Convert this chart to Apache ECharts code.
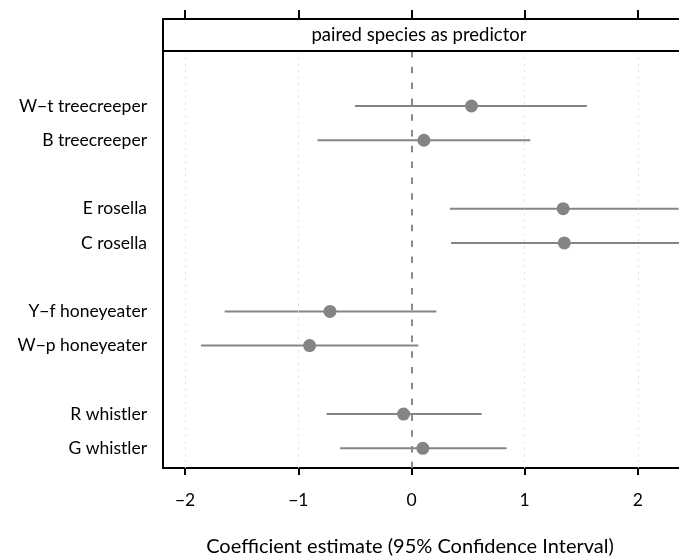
<!DOCTYPE html>
<html>
<head>
<meta charset="utf-8">
<script src="https://cdn.jsdelivr.net/npm/echarts@6/dist/echarts.min.js"></script>
<style>
  html, body { margin: 0; padding: 0; background: #fff; }
  #chart { width: 679px; height: 558px; }
</style>
</head>
<body>
<div id="chart"></div>
<script>
// Species compared, top to bottom, with their row slots (blank slots separate the pairs)
const species = ['W\u2212t treecreeper', 'B treecreeper', 'E rosella', 'C rosella',
                 'Y\u2212f honeyeater', 'W\u2212p honeyeater', 'R whistler', 'G whistler'];
const rowPos = [1, 2, 4, 5, 7, 8, 10, 11];

// Coefficient estimates and 95% confidence limits
const estimate = [0.53, 0.11, 1.34, 1.35, -0.72, -0.90, -0.07, 0.10];
const lower    = [-0.50, -0.83, 0.34, 0.35, -1.65, -1.86, -0.75, -0.63];
const upper    = [1.55, 1.05, 2.36, 2.37, 0.22, 0.06, 0.62, 0.84];

// Axis tick values
const xTicks = [-2, -1, 0, 1, 2];

const X_MIN = -2.195, X_MAX = 2.372;
const Y_MIN = -0.607, Y_MAX = 11.575;
const FONT = 'Lato';
const GREY = '#858585';

const chart = echarts.init(document.getElementById('chart'), null, { renderer: 'canvas' });

const pointData = estimate.map((v, i) => [v, rowPos[i]]);
const ciData = lower.map((lo, i) => [lo, upper[i], rowPos[i]]);

chart.setOption({
  animation: false,
  backgroundColor: '#fff',
  grid: {
    left: 163, top: 51, width: 517, height: 417,
    outerBoundsMode: 'none', containLabel: false,
    show: true, borderColor: '#000', borderWidth: 2, backgroundColor: 'transparent'
  },
  xAxis: [
    {
      type: 'value', position: 'bottom', min: X_MIN, max: X_MAX,
      axisLine: { show: false, onZero: false },
      axisTick: { show: true, customValues: xTicks, length: 7, lineStyle: { color: '#000', width: 2 } },
      axisLabel: {
        customValues: xTicks, margin: 23, color: '#000', fontFamily: FONT, fontSize: 17.5,
        formatter: v => (v < 0 ? '\u2212' + Math.abs(v) : String(v))
      },
      splitLine: { show: false }
    },
    {
      type: 'value', position: 'top', offset: 32, min: X_MIN, max: X_MAX,
      axisLine: { show: false, onZero: false },
      axisTick: { show: true, customValues: xTicks, length: 9, lineStyle: { color: '#000', width: 2 } },
      axisLabel: { show: false },
      splitLine: { show: false }
    }
  ],
  yAxis: {
    type: 'value', inverse: true, min: Y_MIN, max: Y_MAX,
    axisLine: { show: false, onZero: false },
    axisTick: { show: false },
    splitLine: { show: false },
    axisLabel: {
      customValues: rowPos, margin: 16, color: '#000', fontFamily: FONT, fontSize: 17.5,
      formatter: v => species[rowPos.indexOf(v)] || ''
    }
  },
  graphic: [
    {
      type: 'rect', shape: { x: 163, y: 19, width: 517, height: 32 },
      style: { fill: '#fff', stroke: '#000', lineWidth: 2 }, z: 10
    },
    {
      type: 'text', x: 419, y: 35.5, z: 11,
      style: {
        text: 'paired species as predictor', fill: '#000', font: '18.5px ' + FONT,
        align: 'center', verticalAlign: 'middle'
      }
    },
    {
      type: 'text', x: 410, y: 547, z: 11,
      style: {
        text: 'Coefficient estimate (95% Confidence Interval)', fill: '#000', font: '20px ' + FONT,
        align: 'center', verticalAlign: 'middle'
      }
    }
  ],
  series: [
    {
      // dotted reference grid plus dashed zero line
      type: 'line', data: [], silent: true, z: 1,
      markLine: {
        silent: true, symbol: 'none', label: { show: false },
        animation: false,
        data: xTicks.filter(t => t !== 0).map(t => ({
          xAxis: t, lineStyle: { color: '#d8d8d8', width: 1, type: [1.5, 5] }
        })).concat([{ xAxis: 0, lineStyle: { color: '#8a8a8a', width: 2, type: [6.5, 9.3] } }])
      }
    },
    {
      type: 'custom', z: 2, clip: true,
      data: ciData,
      encode: { x: [0, 1], y: 2 },
      renderItem: (params, api) => {
        const a = api.coord([api.value(0), api.value(2)]);
        const b = api.coord([api.value(1), api.value(2)]);
        return {
          type: 'line',
          shape: { x1: a[0], y1: a[1], x2: b[0], y2: b[1] },
          style: { stroke: GREY, lineWidth: 2 }
        };
      }
    },
    {
      type: 'scatter', z: 3, data: pointData,
      symbol: 'circle', symbolSize: 13,
      itemStyle: { color: '#848484', opacity: 1 }
    }
  ]
});
</script>
</body>
</html>
